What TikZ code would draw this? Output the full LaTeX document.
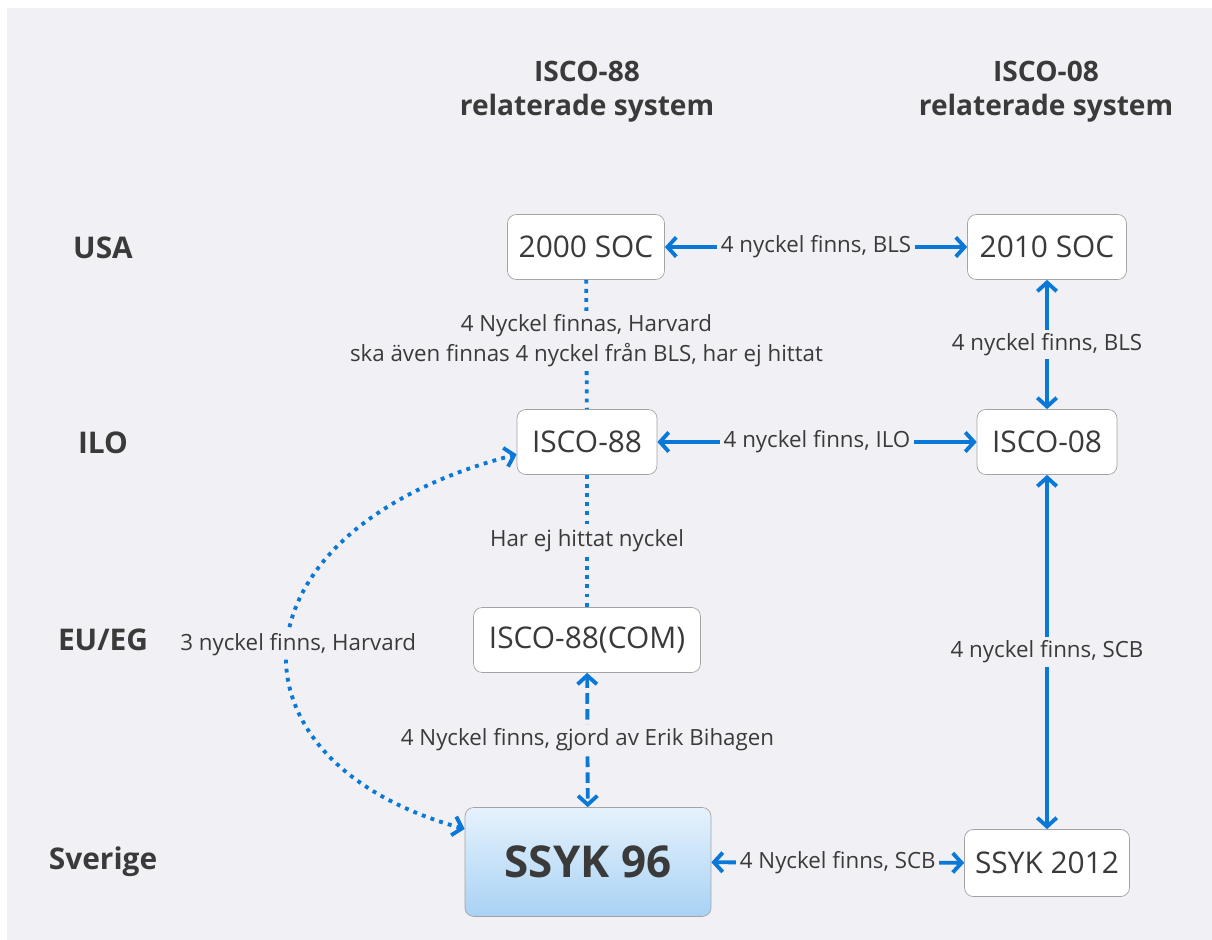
\documentclass[tikz,border=0pt]{standalone}
\usepackage{fontspec}
\setmainfont{Open Sans}
\usetikzlibrary{arrows.meta}

\definecolor{linkblue}{HTML}{0A78D7}
\definecolor{bg}{HTML}{F1F1F5}
\definecolor{txt}{HTML}{3A3A3A}
\definecolor{boxline}{HTML}{A3A3A3}
\definecolor{ssyktop}{HTML}{E6F2FD}
\definecolor{ssykbot}{HTML}{A8D2F4}

\begin{document}
\begin{tikzpicture}[x=0.02cm, y=-0.02cm,
    sysbox/.style={draw=boxline, fill=white, rounded corners=5pt, text=txt,
        font=\fontsize{17}{20}\selectfont, minimum height=1.3cm, inner xsep=4pt},
    rowlabel/.style={text=txt, font=\fontsize{17}{20}\selectfont\bfseries},
    head/.style={text=txt, align=center, font=\fontsize{16}{19.5}\selectfont\bfseries},
    keylabel/.style={fill=bg, text=txt, font=\fontsize{12.7}{17}\selectfont, inner sep=2pt},
    link/.style={draw=linkblue, line width=2.2pt,
        arrows={Straight Barb[length=5pt,width=11pt]-Straight Barb[length=5pt,width=11pt]}},
    dotlink/.style={draw=linkblue, line width=2.2pt, dash pattern=on 2.2pt off 3pt},
    dotarrow/.style={dotlink,
        arrows={Straight Barb[length=5pt,width=11pt]-Straight Barb[length=5pt,width=11pt]}},
    dasharrow/.style={link, dash pattern=on 6pt off 3pt}]

    % page and background
    \useasboundingbox (0,0) rectangle (1212,939);
    \fill[white] (0,0) rectangle (1212,939);
    \fill[bg] (7,8) rectangle (1214,941);

    % column headings
    \node[head] (head88) at (587,92) {ISCO-88\\relaterade system};
    \node[head] (head08) at (1046,92) {ISCO-08\\relaterade system};

    % row headings
    \node[rowlabel] (usa) at (103,248) {USA};
    \node[rowlabel] (ilo) at (103,443) {ILO};
    \node[rowlabel] (eu) at (103,640) {EU/EG};
    \node[rowlabel] (sverige) at (103,862) {Sverige};

    % systems, ISCO-88 side
    \node[sysbox, minimum width=3.14cm] (soc2000) at (586,247) {2000 SOC};
    \node[sysbox, minimum width=2.8cm] (isco88) at (587,442) {ISCO-88};
    \node[sysbox, minimum width=4.54cm] (isco88com) at (587,640) {ISCO-88(COM)};
    \node[sysbox, minimum width=4.92cm, minimum height=2.18cm, top color=ssyktop,
        bottom color=ssykbot, font=\fontsize{25}{29}\selectfont\bfseries] (ssyk96) at (588,862) {SSYK 96};

    % systems, ISCO-08 side
    \node[sysbox, minimum width=3.18cm] (soc2010) at (1047,247) {2010 SOC};
    \node[sysbox, minimum width=2.8cm] (isco08) at (1047,442) {ISCO-08};
    \node[sysbox, minimum width=3.3cm, minimum height=1.34cm] (ssyk2012) at (1047,863) {SSYK 2012};

    % keys between the systems
    \draw[link] (soc2000) -- node[keylabel] (k1) {4 nyckel finns, BLS} (soc2010);
    \draw[dotlink] (soc2000) -- node[keylabel, align=center, pos=0.47] (k2)
        {4 Nyckel finnas, Harvard\\ska även finnas 4 nyckel från BLS, har ej hittat} (isco88);
    \draw[link] (soc2010) -- node[keylabel] (k3) {4 nyckel finns, BLS} (isco08);
    \draw[link] (isco88) -- node[keylabel] (k4) {4 nyckel finns, ILO} (isco08);
    \draw[dotlink] (isco88) -- node[keylabel] (k5) {Har ej hittat nyckel} (isco88com);
    \draw[dasharrow] (isco88com) -- node[keylabel] (k6) {4 Nyckel finns, gjord av Erik Bihagen} (ssyk96);
    \draw[link] (isco08) -- node[keylabel] (k7) {4 nyckel finns, SCB} (ssyk2012);
    \draw[link] (ssyk96) -- node[keylabel] (k8) {4 Nyckel finns, SCB} (ssyk2012);

    % Harvard key, curved round the left
    \draw[dotarrow] (ssyk96.165) .. controls (215,760) and (225,530) ..
        node[keylabel, pos=0.5, xshift=6pt] (k9) {3 nyckel finns, Harvard} (isco88.190);
\end{tikzpicture}
\end{document}
